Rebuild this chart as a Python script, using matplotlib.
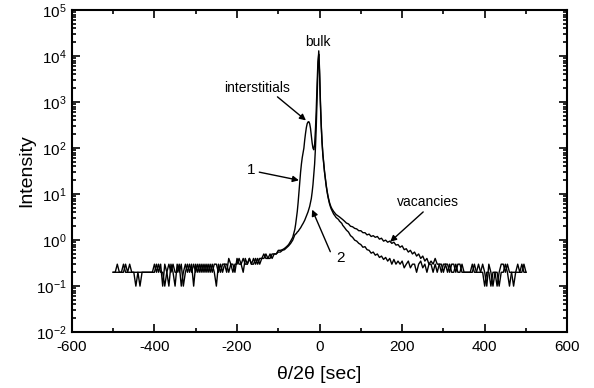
import numpy as np
import matplotlib
matplotlib.use('Agg')
import matplotlib.pyplot as plt
from matplotlib.ticker import LogLocator, MultipleLocator

plt.rcParams['font.family'] = ['Liberation Sans', 'DejaVu Sans']
plt.rcParams['mathtext.fontset'] = 'custom'
plt.rcParams['mathtext.rm'] = 'Liberation Sans'
plt.rcParams['mathtext.it'] = 'Liberation Sans'
plt.rcParams['axes.unicode_minus'] = False

# sample positions in sec: coarse wings, finer around the peaks
theta_left = np.arange(-500, -60, 5)
theta_mid = np.arange(-60, 60, 2)
theta_right = np.arange(60, 501, 5)
theta = np.concatenate([theta_left, theta_mid, theta_right])

# curve 1 (interstitials)
c1_left = [0.2, 0.2, 0.3, 0.2, 0.2, 0.2, 0.3, 0.2, 0.3, 0.2,
           0.2, 0.1, 0.2, 0.1, 0.2, 0.2, 0.2, 0.2, 0.2, 0.2,
           0.2, 0.3, 0.2, 0.3, 0.1, 0.3, 0.2, 0.1, 0.3, 0.2,
           0.1, 0.3, 0.2, 0.3, 0.1, 0.2, 0.3, 0.2, 0.3, 0.1,
           0.3, 0.2, 0.3, 0.2, 0.3, 0.2, 0.3, 0.2, 0.3, 0.2,
           0.1, 0.3, 0.2, 0.3, 0.3, 0.2, 0.4, 0.3, 0.2, 0.3,
           0.3, 0.4, 0.3, 0.2, 0.4, 0.3, 0.4, 0.3, 0.4, 0.3,
           0.4, 0.3, 0.4, 0.5, 0.4, 0.4, 0.5, 0.4, 0.5, 0.5,
           0.6, 0.6, 0.62, 0.66, 0.72, 0.8, 0.95, 1.15]
c1_mid = [1.7, 2.2, 3.0, 4.2, 6.5, 11, 19, 30, 45, 62,
          80, 100, 150, 210, 280, 340, 370, 375, 340, 270,
          190, 130, 100, 92, 120, 250, 700, 2500, 7500, 11000,
          4000, 900, 300, 130, 70, 45, 30, 21, 15, 11.5,
          9, 7.4, 6.2, 5.4, 4.8, 4.4, 4.0, 3.7, 3.5, 3.3,
          3.1, 3.0, 2.9, 2.8, 2.6, 2.5, 2.4, 2.3, 2.1, 2.0]
c1_right = [1.9, 1.65, 1.5, 1.25, 1.15, 1.0, 0.95, 0.85, 0.8, 0.7,
            0.72, 0.62, 0.6, 0.52, 0.55, 0.47, 0.5, 0.42, 0.45, 0.38,
            0.42, 0.35, 0.4, 0.3, 0.38, 0.3, 0.35, 0.3, 0.35, 0.25,
            0.3, 0.35, 0.25, 0.3, 0.3, 0.2, 0.3, 0.35, 0.25, 0.3,
            0.2, 0.3, 0.3, 0.2, 0.3, 0.2, 0.3, 0.3, 0.2, 0.3,
            0.2, 0.3, 0.2, 0.2, 0.3, 0.2, 0.2, 0.3, 0.2, 0.2,
            0.2, 0.2, 0.2, 0.3, 0.2, 0.2, 0.2, 0.3, 0.2, 0.1,
            0.3, 0.2, 0.1, 0.2, 0.2, 0.1, 0.2, 0.2, 0.3, 0.2,
            0.1, 0.2, 0.2, 0.2, 0.2, 0.2, 0.2, 0.3, 0.2]

# curve 2 (vacancies)
c2_left = [0.2, 0.2, 0.2, 0.2, 0.2, 0.3, 0.2, 0.2, 0.2, 0.2,
           0.2, 0.2, 0.2, 0.2, 0.2, 0.2, 0.2, 0.2, 0.2, 0.2,
           0.3, 0.2, 0.3, 0.2, 0.2, 0.1, 0.2, 0.3, 0.2, 0.3,
           0.2, 0.2, 0.3, 0.1, 0.2, 0.3, 0.2, 0.3, 0.2, 0.3,
           0.2, 0.3, 0.2, 0.3, 0.2, 0.3, 0.2, 0.3, 0.2, 0.3,
           0.3, 0.2, 0.3, 0.2, 0.3, 0.3, 0.2, 0.3, 0.3, 0.2,
           0.4, 0.3, 0.3, 0.4, 0.3, 0.3, 0.4, 0.3, 0.3, 0.4,
           0.3, 0.4, 0.4, 0.4, 0.5, 0.4, 0.4, 0.5, 0.5, 0.5,
           0.55, 0.55, 0.6, 0.62, 0.68, 0.75, 0.85, 1.0]
c2_mid = [1.3, 1.35, 1.4, 1.5, 1.55, 1.65, 1.75, 1.85, 2.0, 2.15,
          2.3, 2.5, 2.7, 3.0, 3.3, 3.7, 4.1, 4.7, 5.4, 6.5,
          8, 11, 16, 26, 45, 100, 300, 1200, 5000, 13000,
          5000, 1100, 330, 140, 75, 47, 31, 22, 16, 12,
          9.5, 7.8, 6.6, 5.8, 5.2, 4.8, 4.5, 4.2, 4.0, 3.8,
          3.6, 3.5, 3.4, 3.3, 3.2, 3.1, 3.0, 2.9, 2.8, 2.7]
c2_right = [2.6, 2.35, 2.25, 2.0, 1.95, 1.8, 1.75, 1.6, 1.6, 1.45,
            1.45, 1.3, 1.35, 1.2, 1.25, 1.15, 1.2, 1.05, 1.1, 0.95,
            1.0, 0.9, 0.95, 0.85, 0.9, 0.78, 0.8, 0.7, 0.75, 0.62,
            0.65, 0.55, 0.6, 0.5, 0.55, 0.45, 0.5, 0.4, 0.45, 0.35,
            0.4, 0.3, 0.35, 0.3, 0.4, 0.3, 0.3, 0.2, 0.3, 0.3,
            0.3, 0.2, 0.3, 0.3, 0.2, 0.3, 0.3, 0.2, 0.2, 0.2,
            0.2, 0.2, 0.3, 0.2, 0.2, 0.3, 0.2, 0.2, 0.1, 0.2,
            0.2, 0.1, 0.2, 0.2, 0.1, 0.2, 0.3, 0.3, 0.2, 0.3,
            0.2, 0.2, 0.1, 0.2, 0.3, 0.2, 0.3, 0.2, 0.2]

curve1 = np.array(c1_left + c1_mid + c1_right)
curve2 = np.array(c2_left + c2_mid + c2_right)

fig = plt.figure(figsize=(5.94, 3.88), dpi=100)
ax = fig.add_axes([0.121, 0.144, 0.834, 0.830])

ax.plot(theta, curve1, color='black', linewidth=1.0)
ax.plot(theta, curve2, color='black', linewidth=1.0)

ax.set_yscale('log')
ax.set_xlim(-600, 600)
ax.set_ylim(1e-2, 1e5)
ax.xaxis.set_major_locator(MultipleLocator(200))
ax.xaxis.set_minor_locator(MultipleLocator(100))
ax.yaxis.set_major_locator(LogLocator(base=10, numticks=10))
ax.yaxis.set_minor_locator(LogLocator(base=10, subs=np.arange(2, 10), numticks=20))

ax.tick_params(which='both', direction='in', top=True, right=True, labelsize=11, width=1.2)
ax.tick_params(which='major', length=6)
ax.tick_params(which='minor', length=3)
ax.tick_params(axis='x', pad=6)
ax.tick_params(axis='y', pad=4)
for s in ax.spines.values():
    s.set_linewidth(1.5)

ax.set_xlabel('θ/2θ [sec]', fontsize=14, labelpad=8)
ax.set_ylabel('Intensity', fontsize=14, labelpad=0)

arrow = dict(arrowstyle='-|>', color='black', lw=1.0, mutation_scale=9, shrinkA=0, shrinkB=0)
ax.text(-5, 2e4, 'bulk', ha='center', va='center', fontsize=10)
ax.text(-151, 2000, 'interstitials', ha='center', va='center', fontsize=10)
ax.annotate('', xy=(-33, 400), xytext=(-102, 1300), arrowprops=arrow)
ax.text(-166, 33, '1', ha='center', va='center', fontsize=11)
ax.annotate('', xy=(-50, 20), xytext=(-146, 30), arrowprops=arrow)
ax.text(50, 0.4, '2', ha='center', va='center', fontsize=11)
ax.annotate('', xy=(-18, 4.6), xytext=(26, 0.56), arrowprops=arrow)
ax.text(263, 6.8, 'vacancies', ha='center', va='center', fontsize=10)
ax.annotate('', xy=(171, 0.92), xytext=(251, 4.1), arrowprops=arrow)

fig.savefig('out.png', dpi=100)
